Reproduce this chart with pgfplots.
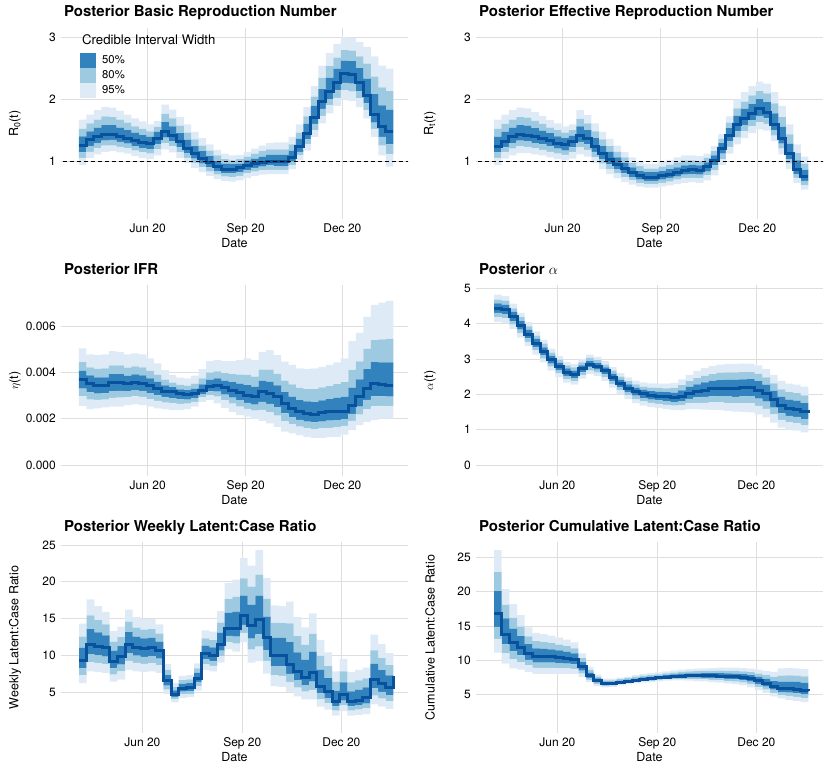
\documentclass[border=0pt]{standalone}
\usepackage{fontspec}
\setmainfont{TeX Gyre Heros}
\usepackage{pgfplots}
\pgfplotsset{compat=1.18}
\usepackage{pgfplotstable}

\definecolor{c95}{HTML}{DEEBF7}
\definecolor{c80}{HTML}{9ECAE1}
\definecolor{c50}{HTML}{3182BD}
\definecolor{cmed}{HTML}{08519C}
\definecolor{cgrid}{HTML}{DEDEDE}

% R0(t), weekly steps
\pgfplotstableread{
l95 l80 l50 m h50 h80 h95
0.95 1.06 1.15 1.26 1.41 1.53 1.68
1.06 1.16 1.25 1.35 1.49 1.62 1.76
1.12 1.22 1.30 1.40 1.55 1.68 1.83
1.16 1.26 1.34 1.44 1.59 1.73 1.88
1.17 1.26 1.35 1.44 1.59 1.72 1.87
1.15 1.24 1.32 1.41 1.55 1.68 1.82
1.13 1.22 1.29 1.38 1.51 1.63 1.76
1.09 1.18 1.25 1.34 1.47 1.57 1.70
1.06 1.15 1.22 1.31 1.43 1.53 1.65
1.04 1.13 1.20 1.29 1.40 1.49 1.60
1.10 1.20 1.28 1.38 1.48 1.56 1.66
1.20 1.30 1.39 1.49 1.64 1.77 1.92
1.15 1.25 1.33 1.43 1.57 1.70 1.84
1.06 1.15 1.23 1.32 1.46 1.58 1.72
0.98 1.06 1.14 1.22 1.35 1.47 1.60
0.90 0.98 1.05 1.13 1.25 1.36 1.48
0.83 0.91 0.97 1.05 1.17 1.26 1.38
0.77 0.84 0.91 0.98 1.09 1.18 1.28
0.72 0.79 0.85 0.92 1.01 1.10 1.19
0.69 0.76 0.81 0.88 0.97 1.04 1.13
0.68 0.75 0.81 0.88 0.96 1.02 1.10
0.70 0.77 0.83 0.90 0.97 1.04 1.11
0.74 0.81 0.87 0.94 1.02 1.08 1.16
0.77 0.84 0.90 0.97 1.05 1.13 1.21
0.79 0.86 0.92 0.99 1.08 1.17 1.26
0.80 0.87 0.94 1.01 1.11 1.20 1.30
0.80 0.87 0.93 1.00 1.11 1.20 1.31
0.80 0.87 0.93 1.00 1.11 1.20 1.31
0.88 0.94 1.00 1.06 1.18 1.28 1.40
1.02 1.10 1.16 1.24 1.37 1.47 1.60
1.18 1.28 1.36 1.46 1.61 1.73 1.88
1.40 1.51 1.61 1.72 1.90 2.05 2.22
1.62 1.74 1.85 1.97 2.17 2.35 2.55
1.78 1.91 2.01 2.14 2.35 2.54 2.75
1.90 2.03 2.15 2.28 2.50 2.68 2.90
2.00 2.15 2.27 2.42 2.63 2.80 3.01
1.98 2.13 2.26 2.41 2.62 2.79 3.00
1.88 2.02 2.14 2.28 2.51 2.70 2.93
1.70 1.83 1.94 2.07 2.34 2.58 2.85
1.40 1.53 1.63 1.76 2.09 2.37 2.70
1.10 1.26 1.40 1.56 1.91 2.20 2.55
0.92 1.12 1.28 1.48 1.84 2.14 2.50
0.92 1.12 1.28 1.48 1.84 2.14 2.50
}\tA

% Rt(t)
\pgfplotstableread{
l95 l80 l50 m h50 h80 h95
0.95 1.06 1.15 1.25 1.40 1.53 1.68
1.05 1.15 1.23 1.33 1.48 1.61 1.76
1.10 1.21 1.30 1.40 1.55 1.68 1.83
1.14 1.25 1.34 1.44 1.59 1.72 1.87
1.14 1.24 1.33 1.43 1.58 1.71 1.86
1.12 1.22 1.30 1.40 1.54 1.66 1.80
1.10 1.19 1.28 1.37 1.50 1.61 1.74
1.07 1.16 1.25 1.34 1.46 1.55 1.67
1.04 1.13 1.21 1.30 1.41 1.51 1.62
1.02 1.11 1.18 1.27 1.38 1.47 1.57
1.05 1.15 1.23 1.33 1.42 1.51 1.60
1.12 1.23 1.32 1.43 1.57 1.69 1.83
1.08 1.19 1.28 1.38 1.51 1.62 1.75
0.98 1.07 1.16 1.25 1.38 1.49 1.62
0.88 0.97 1.04 1.13 1.25 1.36 1.48
0.80 0.88 0.96 1.04 1.16 1.25 1.37
0.73 0.81 0.88 0.96 1.07 1.16 1.26
0.67 0.75 0.81 0.89 0.98 1.07 1.16
0.63 0.70 0.75 0.82 0.91 0.98 1.07
0.60 0.66 0.71 0.77 0.85 0.93 1.01
0.58 0.64 0.69 0.75 0.83 0.89 0.97
0.58 0.64 0.69 0.75 0.83 0.89 0.97
0.60 0.66 0.71 0.77 0.85 0.92 1.00
0.62 0.68 0.74 0.80 0.88 0.95 1.03
0.64 0.71 0.76 0.83 0.91 0.99 1.07
0.66 0.73 0.79 0.86 0.94 1.02 1.10
0.67 0.74 0.80 0.87 0.95 1.02 1.10
0.66 0.73 0.79 0.86 0.94 1.01 1.09
0.70 0.78 0.84 0.92 0.99 1.06 1.13
0.78 0.86 0.94 1.02 1.10 1.17 1.25
0.95 1.04 1.13 1.22 1.30 1.37 1.45
1.13 1.24 1.33 1.43 1.54 1.63 1.73
1.28 1.39 1.49 1.60 1.74 1.86 2.00
1.38 1.49 1.59 1.70 1.85 1.97 2.12
1.46 1.57 1.67 1.78 1.93 2.07 2.22
1.52 1.64 1.74 1.86 2.01 2.14 2.29
1.50 1.61 1.70 1.80 1.96 2.10 2.26
1.33 1.42 1.51 1.60 1.78 1.94 2.12
1.12 1.21 1.29 1.38 1.56 1.72 1.90
0.88 0.97 1.04 1.13 1.29 1.44 1.60
0.66 0.74 0.80 0.88 1.02 1.14 1.28
0.55 0.62 0.69 0.76 0.87 0.97 1.08
0.55 0.62 0.69 0.76 0.87 0.97 1.08
}\tB

% IFR (in units of 0.001)
\pgfplotstableread{
l95 l80 l50 m h50 h80 h95
2.56 2.98 3.30 3.70 4.06 4.44 5.04
2.42 2.83 3.14 3.53 3.87 4.22 4.78
2.45 2.81 3.08 3.42 3.78 4.15 4.75
2.49 2.83 3.09 3.42 3.79 4.17 4.78
2.52 2.90 3.19 3.55 3.92 4.30 4.92
2.52 2.91 3.20 3.57 3.93 4.30 4.89
2.59 2.93 3.19 3.51 3.85 4.21 4.78
2.62 2.97 3.24 3.57 3.91 4.26 4.82
2.59 2.94 3.20 3.53 3.87 4.22 4.78
2.52 2.85 3.11 3.42 3.74 4.07 4.60
2.45 2.77 3.01 3.31 3.60 3.90 4.39
2.42 2.70 2.92 3.19 3.44 3.69 4.10
2.37 2.67 2.89 3.17 3.36 3.56 3.88
2.37 2.64 2.84 3.09 3.27 3.46 3.77
2.42 2.65 2.83 3.05 3.24 3.43 3.74
2.52 2.73 2.89 3.09 3.30 3.51 3.86
2.73 2.92 3.06 3.24 3.48 3.74 4.14
2.81 3.02 3.18 3.38 3.68 3.99 4.49
2.66 2.95 3.17 3.45 3.74 4.04 4.53
2.47 2.79 3.04 3.34 3.65 3.97 4.49
2.30 2.65 2.91 3.24 3.58 3.93 4.49
2.16 2.52 2.80 3.14 3.52 3.90 4.53
2.09 2.43 2.69 3.02 3.45 3.89 4.60
1.99 2.35 2.61 2.95 3.38 3.82 4.53
1.91 2.38 2.73 3.17 3.63 4.12 4.89
1.80 2.28 2.64 3.09 3.59 4.12 4.96
1.65 2.13 2.50 2.95 3.44 3.94 4.75
1.44 1.89 2.23 2.66 3.15 3.65 4.46
1.37 1.77 2.07 2.45 2.95 3.48 4.32
1.29 1.66 1.95 2.30 2.80 3.33 4.17
1.22 1.59 1.88 2.23 2.75 3.28 4.14
1.18 1.55 1.84 2.19 2.72 3.28 4.17
1.18 1.58 1.88 2.26 2.79 3.35 4.24
1.21 1.61 1.92 2.30 2.85 3.41 4.32
1.22 1.63 1.94 2.33 2.90 3.49 4.43
1.32 1.69 1.98 2.33 2.94 3.58 4.60
1.51 1.91 2.21 2.59 3.34 4.11 5.35
1.73 2.18 2.52 2.95 3.70 4.47 5.71
1.87 2.40 2.81 3.31 4.14 5.01 6.40
1.94 2.53 2.97 3.53 4.44 5.39 6.91
2.01 2.55 2.97 3.48 4.43 5.42 7.01
2.01 2.54 2.95 3.45 4.43 5.45 7.08
2.01 2.54 2.95 3.45 4.43 5.45 7.08
}\tC

% alpha(t)
\pgfplotstableread{
l95 l80 l50 m h50 h80 h95
4.05 4.18 4.30 4.43 4.57 4.68 4.82
4.02 4.15 4.27 4.40 4.53 4.65 4.78
3.84 3.97 4.07 4.20 4.33 4.43 4.56
3.60 3.72 3.83 3.95 4.07 4.18 4.30
3.36 3.48 3.58 3.70 3.82 3.92 4.04
3.12 3.24 3.33 3.45 3.57 3.66 3.78
2.90 3.01 3.11 3.22 3.33 3.43 3.54
2.67 2.78 2.87 2.98 3.09 3.18 3.29
2.48 2.59 2.68 2.78 2.89 2.98 3.08
2.33 2.43 2.52 2.62 2.73 2.82 2.92
2.27 2.37 2.46 2.56 2.67 2.76 2.86
2.44 2.54 2.62 2.72 2.82 2.90 3.00
2.58 2.67 2.76 2.85 2.94 3.03 3.12
2.52 2.61 2.70 2.79 2.88 2.97 3.06
2.38 2.48 2.56 2.66 2.76 2.84 2.94
2.19 2.29 2.38 2.48 2.58 2.67 2.77
2.00 2.11 2.20 2.30 2.41 2.50 2.60
1.86 1.97 2.06 2.17 2.28 2.37 2.48
1.75 1.86 1.96 2.07 2.18 2.28 2.39
1.68 1.80 1.89 2.01 2.13 2.22 2.34
1.64 1.76 1.85 1.97 2.09 2.19 2.31
1.61 1.73 1.83 1.95 2.07 2.18 2.30
1.58 1.70 1.81 1.93 2.06 2.17 2.30
1.55 1.68 1.78 1.91 2.05 2.18 2.32
1.55 1.69 1.81 1.95 2.11 2.26 2.42
1.58 1.74 1.87 2.03 2.21 2.37 2.55
1.58 1.76 1.91 2.08 2.28 2.46 2.66
1.57 1.76 1.93 2.12 2.34 2.52 2.74
1.56 1.77 1.94 2.15 2.38 2.57 2.80
1.55 1.77 1.95 2.17 2.40 2.61 2.84
1.53 1.75 1.95 2.17 2.41 2.62 2.86
1.51 1.74 1.93 2.16 2.41 2.62 2.86
1.50 1.74 1.94 2.18 2.42 2.63 2.87
1.49 1.74 1.95 2.19 2.43 2.63 2.87
1.43 1.67 1.88 2.12 2.37 2.58 2.82
1.35 1.59 1.79 2.03 2.27 2.48 2.72
1.20 1.43 1.62 1.85 2.10 2.31 2.55
1.06 1.28 1.46 1.68 1.93 2.14 2.38
1.00 1.21 1.39 1.60 1.85 2.06 2.30
0.97 1.18 1.36 1.57 1.82 2.03 2.27
0.92 1.12 1.30 1.50 1.75 1.97 2.22
0.92 1.12 1.30 1.48 1.75 1.97 2.22
}\tD

% weekly latent:case ratio
\pgfplotstableread{
l95 l80 l50 m h50 h80 h95
6.2 7.29 8.22 9.3 11.05 12.55 14.3
7.8 9.06 10.14 11.4 13.57 15.43 17.6
7.7 8.93 9.98 11.2 13.13 14.78 16.7
7.6 8.79 9.81 11.0 12.72 14.19 15.9
6.4 7.38 8.22 9.2 10.64 11.87 13.3
6.7 7.79 8.72 9.8 11.24 12.47 13.9
8.0 9.23 10.28 11.5 13.15 14.56 16.2
7.8 8.96 9.95 11.1 12.54 13.77 15.2
7.7 8.82 9.78 10.9 12.30 13.50 14.9
7.8 8.92 9.88 11.0 12.37 13.54 14.9
7.6 8.65 9.55 10.6 11.86 12.94 14.2
4.7 5.33 5.87 6.5 7.31 8.00 8.8
3.6 3.99 4.32 4.7 5.23 5.68 6.2
4.2 4.66 5.05 5.5 6.10 6.61 7.2
4.3 4.76 5.15 5.6 6.20 6.71 7.3
5.2 5.80 6.31 6.9 7.60 8.20 8.9
8.0 8.77 9.43 10.2 11.32 12.28 13.4
7.8 8.54 9.17 9.9 11.06 12.05 13.2
9.0 9.88 10.63 11.5 13.08 14.43 16.0
10.8 11.78 12.62 13.6 15.77 17.63 19.8
10.5 11.59 12.52 13.6 15.95 17.96 20.3
11.8 13.06 14.14 15.4 18.13 20.47 23.2
9.0 10.75 12.25 14.0 16.87 19.33 22.2
9.2 11.16 12.84 14.8 18.13 20.98 24.3
7.5 9.22 10.69 12.4 15.24 17.67 20.5
5.8 7.27 8.53 10.0 12.38 14.42 16.8
5.7 7.21 8.50 10.0 12.35 14.36 16.7
5.0 6.33 7.47 8.8 11.78 14.33 17.3
4.4 5.59 6.61 7.8 10.39 12.61 15.2
4.0 5.05 5.95 7.0 9.38 11.42 13.8
4.0 5.30 6.41 7.7 10.50 12.90 15.7
3.0 3.98 4.82 5.8 8.01 9.90 12.1
2.6 3.44 4.16 5.0 6.89 8.51 10.4
1.8 2.47 3.04 3.7 5.14 6.37 7.8
2.4 3.17 3.83 4.6 6.32 7.79 9.5
1.8 2.47 3.04 3.7 5.10 6.30 7.7
1.9 2.60 3.20 3.9 5.34 6.57 8.0
2.0 2.77 3.43 4.2 5.64 6.87 8.3
3.3 4.49 5.51 6.7 8.84 10.67 12.8
3.0 4.09 5.02 6.1 7.99 9.61 11.5
2.7 3.72 4.59 5.6 7.25 8.66 10.3
2.7 3.72 4.59 7.2 7.25 8.66 10.3
}\tE

% cumulative latent:case ratio
\pgfplotstableread{
l95 l80 l50 m h50 h80 h95
11.1 13.13 14.87 16.9 20.12 22.88 26.1
9.5 11.0 12.3 13.8 16.1 18.1 20.4
8.8 10.1 11.3 12.6 14.6 16.2 18.2
8.6 9.7 10.7 11.8 13.5 14.9 16.6
8.3 9.25 10.05 11.0 12.33 13.47 14.8
8.0 8.88 9.63 10.5 11.73 12.78 14.0
8.0 8.88 9.63 10.5 11.66 12.65 13.8
8.0 8.88 9.63 10.5 11.59 12.52 13.6
8.0 8.84 9.56 10.4 11.42 12.29 13.3
8.0 8.81 9.50 10.3 11.25 12.06 13.0
8.0 8.74 9.37 10.1 10.98 11.73 12.6
7.5 8.03 8.48 9.0 9.70 10.30 11.0
6.8 7.12 7.39 7.7 8.16 8.55 9.0
6.2 6.48 6.72 7.0 7.32 7.59 7.9
6.0 6.21 6.39 6.6 6.85 7.06 7.3
6.1 6.28 6.43 6.6 6.85 7.06 7.3
6.3 6.46 6.59 6.75 7.0 7.21 7.45
6.5 6.64 6.76 6.9 7.15 7.36 7.6
6.6 6.76 6.89 7.05 7.31 7.54 7.8
6.7 6.88 7.03 7.2 7.48 7.72 8.0
6.8 6.98 7.13 7.3 7.58 7.82 8.1
6.9 7.08 7.23 7.4 7.68 7.92 8.2
7.0 7.18 7.33 7.5 7.80 8.05 8.35
7.05 7.24 7.41 7.6 7.92 8.19 8.5
7.05 7.26 7.44 7.65 7.98 8.27 8.6
7.0 7.25 7.46 7.7 8.05 8.35 8.7
6.95 7.21 7.44 7.7 8.07 8.38 8.75
6.9 7.18 7.42 7.7 8.09 8.42 8.8
6.8 7.12 7.39 7.7 8.10 8.45 8.85
6.7 7.03 7.32 7.65 8.09 8.46 8.9
6.6 6.95 7.25 7.6 8.06 8.45 8.9
6.5 6.87 7.18 7.55 8.02 8.43 8.9
6.3 6.70 7.05 7.45 7.94 8.36 8.85
6.0 6.46 6.85 7.3 7.81 8.24 8.75
5.6 6.09 6.51 7.0 7.56 8.04 8.6
5.2 5.69 6.11 6.6 7.25 7.80 8.45
4.7 5.23 5.68 6.2 6.94 7.57 8.3
4.4 4.89 5.31 5.8 6.85 7.75 8.8
4.2 4.76 5.24 5.8 6.87 7.78 8.85
4.0 4.61 5.14 5.75 6.82 7.73 8.8
3.85 4.46 4.99 5.6 6.69 7.62 8.7
3.85 4.46 4.99 5.55 6.69 7.62 8.7
}\tF

% credible bands as stacked step areas (band layers between successive quantiles)
\newcommand{\bands}[1]{%
  \addplot[draw=none, fill=none, const plot] table[x expr=\coordindex, y=l95]{#1};
  \addplot[draw=none, fill=c95, const plot] table[x expr=\coordindex, y expr=\thisrow{l80}-\thisrow{l95}]{#1} \closedcycle;
  \addplot[draw=none, fill=c80, const plot] table[x expr=\coordindex, y expr=\thisrow{l50}-\thisrow{l80}]{#1} \closedcycle;
  \addplot[draw=none, fill=c50, const plot] table[x expr=\coordindex, y expr=\thisrow{h50}-\thisrow{l50}]{#1} \closedcycle;
  \addplot[draw=none, fill=c80, const plot] table[x expr=\coordindex, y expr=\thisrow{h80}-\thisrow{h50}]{#1} \closedcycle;
  \addplot[draw=none, fill=c95, const plot] table[x expr=\coordindex, y expr=\thisrow{h95}-\thisrow{h80}]{#1} \closedcycle;
}
\newcommand{\median}[1]{%
  \addplot[cmed, const plot, line width=3pt] table[x expr=\coordindex, y=m]{#1};
}

\pgfplotsset{
  panel/.style={
    scale only axis, width=347pt, height=191pt,
    axis line style={draw=none}, major tick length=0pt,
    xmajorgrids, ymajorgrids,
    major grid style={color=cgrid, line width=0.8pt},
    /pgf/number format/assume math mode=true,
    tick label style={font=\fontsize{12}{14}\selectfont, inner sep=0pt},
    label style={font=\fontsize{12.5}{14}\selectfont},
    title style={font=\fontsize{15}{18}\selectfont\bfseries, at={(axis description cs:0,1)}, anchor=base west, xshift=3pt, yshift=5pt, inner sep=0pt},
    xticklabel style={anchor=base, yshift=-13.2pt},
    xlabel style={at={(axis description cs:0.5,0)}, anchor=base, yshift=-28.5pt, inner sep=0pt},
    yticklabel style={anchor=east, xshift=-5pt},
    ylabel style={at={(axis description cs:-0.1326,0.5)}, anchor=center, inner sep=0pt},
    xlabel={Date},
    stack plots=y,
  },
  over/.style={scale only axis, width=347pt, height=191pt, hide axis},
  grpA/.style={xmin=-2.405, xmax=43.97, xtick={9.18,22.28,35.2}, xticklabels={Jun 20,Sep 20,Dec 20}},
  grpB/.style={xmin=-2.35, xmax=42.91, xtick={8.26,21.30,34.22}, xticklabels={Jun 20,Sep 20,Dec 20}},
}

\begin{document}
\begin{tikzpicture}
\path[use as bounding box] (0,0) rectangle (830pt,-770pt);

% ---- panel 1
\begin{axis}[panel, grpA, at={(61pt,-219pt)}, anchor=south west,
  ymin=0.076, ymax=3.156, ytick={1,2,3},
  title={Posterior Basic Reproduction Number},
  ylabel={R\textsubscript{0}(t)}]
\bands{\tA}
\end{axis}
\begin{axis}[over, grpA, at={(61pt,-219pt)}, anchor=south west, ymin=0.076, ymax=3.156]
\median{\tA}
\addplot[black, dash pattern=on 4pt off 3pt, line width=0.9pt] coordinates {(-5,1) (50,1)};
\node[anchor=base west, inner sep=0pt, font=\fontsize{13.2}{15}\selectfont] at (axis description cs:0.0605,0.9123) {Credible Interval Width};
\fill[c50] (axis description cs:0.0548,0.8691) rectangle (axis description cs:0.1009,0.7906);
\fill[c80] (axis description cs:0.0548,0.7906) rectangle (axis description cs:0.1009,0.7120);
\fill[c95] (axis description cs:0.0548,0.7120) rectangle (axis description cs:0.1009,0.6335);
\node[anchor=west, inner sep=0pt, font=\fontsize{11.3}{13}\selectfont] at (axis description cs:0.1182,0.8351) {50\%};
\node[anchor=west, inner sep=0pt, font=\fontsize{11.3}{13}\selectfont] at (axis description cs:0.1182,0.7565) {80\%};
\node[anchor=west, inner sep=0pt, font=\fontsize{11.3}{13}\selectfont] at (axis description cs:0.1182,0.6780) {95\%};
\end{axis}

% ---- panel 2
\begin{axis}[panel, grpA, at={(476pt,-219pt)}, anchor=south west,
  ymin=0.076, ymax=3.156, ytick={1,2,3},
  title={Posterior Effective Reproduction Number},
  ylabel={R\textsubscript{t}(t)}]
\bands{\tB}
\end{axis}
\begin{axis}[over, grpA, at={(476pt,-219pt)}, anchor=south west, ymin=0.076, ymax=3.156]
\median{\tB}
\addplot[black, dash pattern=on 4pt off 3pt, line width=0.9pt] coordinates {(-5,1) (50,1)};
\end{axis}

% ---- panel 3
\begin{axis}[panel, grpA, at={(61pt,-476pt)}, anchor=south west,
  ymin=-0.47, ymax=7.77, ytick={0,2,4,6}, yticklabels={0.000,0.002,0.004,0.006},
  title={Posterior IFR},
  ylabel={$\eta$(t)}]
\bands{\tC}
\end{axis}
\begin{axis}[over, grpA, at={(61pt,-476pt)}, anchor=south west, ymin=-0.47, ymax=7.77]
\median{\tC}
\end{axis}

% ---- panel 4
\begin{axis}[panel, grpB, at={(476pt,-476pt)}, anchor=south west,
  ymin=-0.31, ymax=5.09, ytick={0,1,2,3,4,5},
  title={Posterior {\mdseries$\alpha$}},
  ylabel={$\alpha$(t)}]
\bands{\tD}
\end{axis}
\begin{axis}[over, grpB, at={(476pt,-476pt)}, anchor=south west, ymin=-0.31, ymax=5.09]
\median{\tD}
\end{axis}

% ---- panel 5
\begin{axis}[panel, grpB, at={(61pt,-733pt)}, anchor=south west,
  ymin=-0.58, ymax=25.41, ytick={5,10,15,20,25},
  title={Posterior Weekly Latent:Case Ratio},
  ylabel={Weekly Latent:Case Ratio}]
\bands{\tE}
\end{axis}
\begin{axis}[over, grpB, at={(61pt,-733pt)}, anchor=south west, ymin=-0.58, ymax=25.41]
\median{\tE}
\end{axis}

% ---- panel 6
\begin{axis}[panel, grpB, at={(476pt,-733pt)}, anchor=south west,
  ymin=-0.66, ymax=27.29, ytick={5,10,15,20,25},
  title={Posterior Cumulative Latent:Case Ratio},
  ylabel={Cumulative Latent:Case Ratio}]
\bands{\tF}
\end{axis}
\begin{axis}[over, grpB, at={(476pt,-733pt)}, anchor=south west, ymin=-0.66, ymax=27.29]
\median{\tF}
\end{axis}
\end{tikzpicture}
\end{document}
